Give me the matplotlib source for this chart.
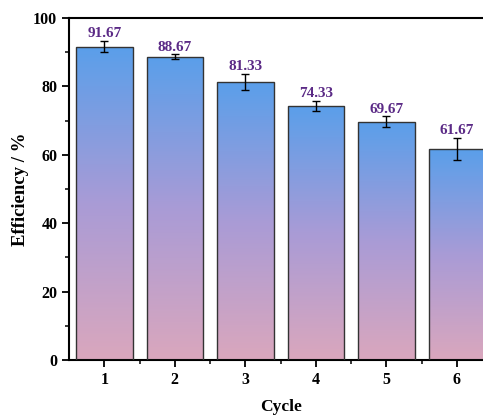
import numpy as np
import matplotlib
matplotlib.use('Agg')
import matplotlib.pyplot as plt
from matplotlib.colors import LinearSegmentedColormap
from matplotlib.ticker import MultipleLocator, FixedLocator

plt.rcParams['font.family'] = ['Liberation Serif', 'DejaVu Serif']
plt.rcParams['font.weight'] = 'bold'

cycles = [1, 2, 3, 4, 5, 6]
efficiency = [91.67, 88.67, 81.33, 74.33, 69.67, 61.67]
errors = [1.7, 0.7, 2.3, 1.5, 1.6, 3.2]
labels = ['91.67', '88.67', '81.33', '74.33', '69.67', '61.67']

fig = plt.figure(figsize=(4.83, 4.15), dpi=100)
ax = fig.add_axes([0.143, 0.1325, 0.876, 0.824])

cmap = LinearSegmentedColormap.from_list('bp', ['#daa7bd', '#a99bd6', '#5a9fea'])
grad = np.linspace(0, 1, 256).reshape(-1, 1)

bars = ax.bar(cycles, efficiency, width=0.8, color='none', edgecolor='#333333',
              linewidth=1.0, zorder=3)
for b in bars:
    x0, w, h = b.get_x(), b.get_width(), b.get_height()
    im = ax.imshow(grad, cmap=cmap, aspect='auto', origin='lower',
                   extent=[x0, x0 + w, 0, h], zorder=2)
    im.set_clip_path(b)

ax.errorbar(cycles, efficiency, yerr=errors, fmt='none', ecolor='black',
            elinewidth=1.0, capsize=3, capthick=1.0, zorder=4)

for x, v, e, s in zip(cycles, efficiency, errors, labels):
    ax.text(x, v + e + 0.2, s, ha='center', va='bottom', color='#5b2a86',
            fontsize=11, fontweight='bold')

ax.set_xlim(0.5, 6.5)
ax.set_ylim(0, 100)
ax.set_xticks(cycles)
ax.xaxis.set_minor_locator(FixedLocator([1.5, 2.5, 3.5, 4.5, 5.5]))
ax.yaxis.set_major_locator(MultipleLocator(20))
ax.yaxis.set_minor_locator(MultipleLocator(10))
ax.tick_params(which='major', direction='out', length=5, width=1.3, labelsize=11.5)
ax.tick_params(which='minor', direction='out', length=3, width=1.1)
for sp in ax.spines.values():
    sp.set_linewidth(1.5)
ax.spines['right'].set_visible(False)

ax.set_xlabel('Cycle', fontsize=12.5, fontweight='bold', labelpad=8)
ax.set_ylabel('Efficiency / %', fontsize=13.5, fontweight='bold', labelpad=3)

fig.savefig('out.png', dpi=100)
